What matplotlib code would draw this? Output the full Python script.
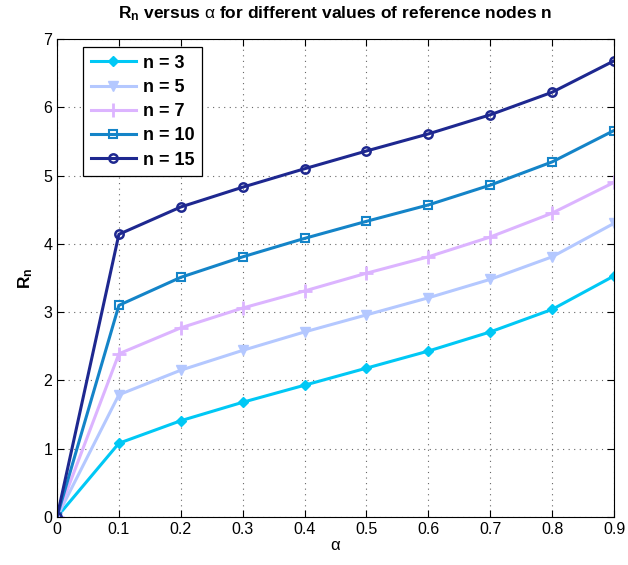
import matplotlib
matplotlib.use("Agg")
import matplotlib.pyplot as plt

plt.rcParams['font.family'] = ['Liberation Sans', 'DejaVu Sans']
plt.rcParams['mathtext.fontset'] = 'custom'
plt.rcParams['mathtext.rm'] = 'Liberation Sans'
plt.rcParams['mathtext.it'] = 'Liberation Sans'
plt.rcParams['mathtext.bf'] = 'Liberation Sans:bold'

alpha = [0, 0.1, 0.2, 0.3, 0.4, 0.5, 0.6, 0.7, 0.8, 0.9]
r_n3 = [0, 1.08, 1.41, 1.68, 1.93, 2.18, 2.43, 2.71, 3.04, 3.53]
r_n5 = [0, 1.79, 2.15, 2.44, 2.71, 2.96, 3.21, 3.48, 3.81, 4.30]
r_n7 = [0, 2.39, 2.77, 3.06, 3.31, 3.57, 3.81, 4.10, 4.45, 4.90]
r_n10 = [0, 3.10, 3.51, 3.81, 4.08, 4.33, 4.57, 4.86, 5.20, 5.66]
r_n15 = [0, 4.14, 4.54, 4.83, 5.10, 5.36, 5.61, 5.89, 6.22, 6.68]
labels = ['n = 3', 'n = 5', 'n = 7', 'n = 10', 'n = 15']
xticks = [0, 0.1, 0.2, 0.3, 0.4, 0.5, 0.6, 0.7, 0.8, 0.9]
yticks = [0, 1, 2, 3, 4, 5, 6, 7]

series = [r_n3, r_n5, r_n7, r_n10, r_n15]
colors = ['#00c8f5', '#b4c8ff', '#dcb4ff', '#1484c8', '#1e2890']
markers = ['D', 'v', '+', 's', 'o']

fig = plt.figure(figsize=(6.28, 5.65), dpi=100)
ax = fig.add_axes([57/628, 48/565, (614-57)/628, (517-39)/565])

for y, c, m, lab in zip(series, colors, markers, labels):
    if m == 'D':
        kw = dict(markersize=5, markeredgewidth=1.0, markerfacecolor=c)
    elif m == 'v':
        kw = dict(markersize=7, markeredgewidth=1.0, markerfacecolor=c)
    elif m == '+':
        kw = dict(markersize=10, markeredgewidth=2.0)
    elif m == 's':
        kw = dict(markersize=6, markeredgewidth=1.5, markerfacecolor='none')
    else:
        kw = dict(markersize=6, markeredgewidth=1.8, markerfacecolor='none')
    ax.plot(alpha, y, color=c, marker=m, linewidth=2.2, label=lab, **kw)

ax.set_xlim(0, 0.9)
ax.set_ylim(0, 7)
ax.set_xticks(xticks)
ax.set_xticklabels(['0', '0.1', '0.2', '0.3', '0.4', '0.5', '0.6', '0.7', '0.8', '0.9'])
ax.set_yticks(yticks)
ax.tick_params(direction='in', length=5, labelsize=11.5, top=True, right=True, width=0.8)
ax.grid(True, linestyle=(0, (1, 4)), color='#666666', linewidth=0.8)
for s in ax.spines.values():
    s.set_linewidth(0.8)

ax.set_xlabel(r'$\alpha$', fontsize=12, labelpad=1)
ax.set_ylabel(r'$\mathbf{R_n}$', fontsize=12.5, labelpad=6)
ax.set_title(r'$\mathbf{R_n}$ versus $\alpha$ for different values of reference nodes n',
             fontsize=12.5, fontweight='bold', pad=15)

leg = ax.legend(loc='upper left', bbox_to_anchor=(0.047, 0.983), borderaxespad=0,
                fancybox=False, edgecolor='black', framealpha=1, handlelength=2.5,
                handletextpad=0.4, prop={'weight': 'bold', 'size': 13},
                borderpad=0.42, labelspacing=0.4)
leg.get_frame().set_linewidth(0.9)

fig.savefig('out.png', dpi=100)
